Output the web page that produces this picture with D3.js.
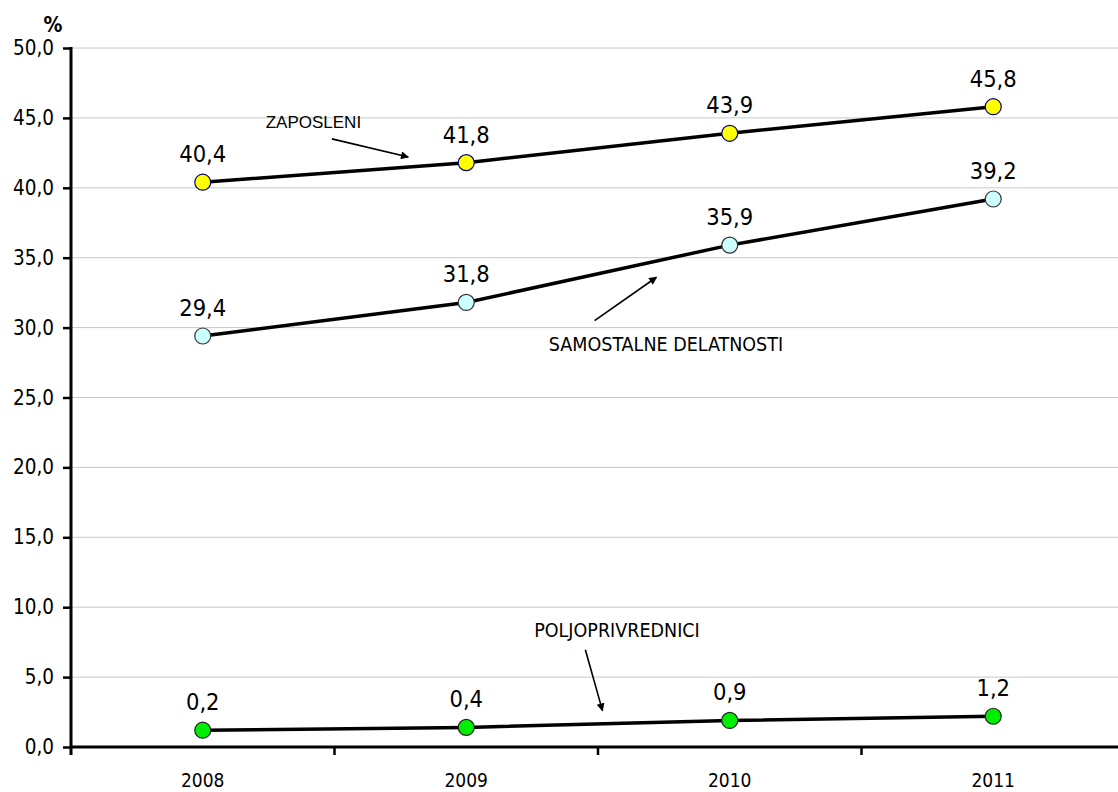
<!DOCTYPE html>
<html>
<head>
<meta charset="utf-8">
<script src="https://cdn.jsdelivr.net/npm/d3@7"></script>
<style>
  body { margin: 0; background: #fff; }
  svg { display: block; }
</style>
</head>
<body>
<div id="chart"></div>
<script>
// Data
var years = ["2008", "2009", "2010", "2011"];
var zaposleni = [40.4, 41.8, 43.9, 45.8];
var samostalne = [29.4, 31.8, 35.9, 39.2];
// plotted positions of the farmers' series sit one unit above their labels in the original
var poljoPlot = [1.2, 1.4, 1.9, 2.2];
var poljoLabels = [0.2, 0.4, 0.9, 1.2];
var yTicks = [0, 5, 10, 15, 20, 25, 30, 35, 40, 45, 50];

var W = 1118, H = 792;
var mLeft = 71, mRight = 1125, mTop = 48, mBottom = 747;
var font = "'DejaVu Sans Condensed', 'DejaVu Sans', sans-serif";
var fmt = function (v) { return d3.format(".1f")(v).replace(".", ","); };

var svg = d3.select("#chart").append("svg")
    .attr("width", W)
    .attr("height", H);

//Scales
var x = d3.scaleBand().domain(years).range([mLeft, mRight]);
var y = d3.scaleLinear().domain([0, 50]).range([mBottom, mTop]);
// continuous index -> pixel, for annotations between categories
var xi = d3.scaleLinear().domain([0, 1]).range([x(years[0]) + x.bandwidth() / 2, x(years[1]) + x.bandwidth() / 2]);

//Gridlines
svg.append("g").selectAll("line")
    .data(yTicks.filter(function (d) { return d > 0; }))
    .enter().append("line")
    .attr("x1", mLeft).attr("x2", W)
    .attr("y1", function (d) { return y(d); })
    .attr("y2", function (d) { return y(d); })
    .attr("stroke", "#c8c8c8")
    .attr("stroke-width", 1);

//Y Axis
var yAxis = svg.append("g")
    .attr("transform", "translate(" + mLeft + ",0)")
    .call(d3.axisLeft(y).tickValues(yTicks).tickFormat(fmt).tickSize(8).tickPadding(9));
yAxis.select(".domain").remove();
yAxis.append("line")
    .attr("x1", 0).attr("x2", 0).attr("y1", mTop - 1).attr("y2", mBottom + 8)
    .attr("stroke", "#000").attr("stroke-width", 3);
yAxis.selectAll(".tick line").attr("stroke-width", 2.5);
yAxis.selectAll(".tick text")
    .attr("font-family", font).attr("font-size", "20.5px").attr("fill", "#000");

//X Axis
var xAxis = svg.append("g")
    .attr("transform", "translate(0," + mBottom + ")");
xAxis.append("line")
    .attr("x1", mLeft).attr("x2", W).attr("y1", 0).attr("y2", 0)
    .attr("stroke", "#000").attr("stroke-width", 3);
xAxis.selectAll(".sep")
    .data(years.slice(1))
    .enter().append("line")
    .attr("x1", function (d) { return x(d); })
    .attr("x2", function (d) { return x(d); })
    .attr("y1", 0).attr("y2", 8)
    .attr("stroke", "#000").attr("stroke-width", 2.5);
xAxis.selectAll(".lbl")
    .data(years)
    .enter().append("text")
    .attr("x", function (d) { return x(d) + x.bandwidth() / 2; })
    .attr("y", 40)
    .attr("text-anchor", "middle")
    .attr("font-family", font).attr("font-size", "19px")
    .text(function (d) { return d; });

svg.append("text")
    .attr("x", 53).attr("y", 32)
    .attr("text-anchor", "middle")
    .attr("font-family", font).attr("font-size", "21px").attr("font-weight", "bold")
    .text("%");

//Series
var series = [
    {values: zaposleni, labels: zaposleni, fill: "#ffff00", stroke: "#000080"},
    {values: samostalne, labels: samostalne, fill: "#ccffff", stroke: "#333333"},
    {values: poljoPlot, labels: poljoLabels, fill: "#00ee00", stroke: "#222222"}
];

var line = d3.line()
    .x(function (d, i) { return x(years[i]) + x.bandwidth() / 2; })
    .y(function (d) { return y(d); });

series.forEach(function (s) {
    svg.append("path")
        .datum(s.values)
        .attr("d", line)
        .attr("fill", "none")
        .attr("stroke", "#000")
        .attr("stroke-width", 3.5);

    svg.append("g").selectAll("circle")
        .data(s.values)
        .enter().append("circle")
        .attr("cx", function (d, i) { return x(years[i]) + x.bandwidth() / 2; })
        .attr("cy", function (d) { return y(d); })
        .attr("r", 8)
        .attr("fill", s.fill)
        .attr("stroke", s.stroke)
        .attr("stroke-width", 1.2);

    svg.append("g").selectAll("text")
        .data(s.values)
        .enter().append("text")
        .attr("x", function (d, i) { return x(years[i]) + x.bandwidth() / 2; })
        .attr("y", function (d) { return y(d) - 20; })
        .attr("text-anchor", "middle")
        .attr("font-family", font).attr("font-size", "23.5px")
        .text(function (d, i) { return fmt(s.labels[i]); });
});

//Annotations with arrows (positions in category index / data units)
svg.append("defs").append("marker")
    .attr("id", "head")
    .attr("viewBox", "0 0 10 10")
    .attr("refX", 9).attr("refY", 5)
    .attr("markerWidth", 12).attr("markerHeight", 8)
    .attr("markerUnits", "userSpaceOnUse")
    .attr("orient", "auto")
    .append("path")
    .attr("d", "M0,0 L10,5 L0,10 z")
    .attr("fill", "#000");

var notes = [
    {text: "ZAPOSLENI", tx: 0.42, ty: 44.25, family: "'Liberation Sans', Arial, sans-serif", size: 17,
        from: [0.49, 43.5], to: [0.78, 42.2]},
    {text: "SAMOSTALNE DELATNOSTI", tx: 1.758, ty: 28.3, family: font, size: 19.5,
        from: [1.487, 30.5], to: [1.722, 33.6]},
    {text: "POLJOPRIVREDNICI", tx: 1.572, ty: 7.85, family: font, size: 19.5,
        from: [1.452, 6.95], to: [1.517, 2.6]}
];

notes.forEach(function (n) {
    svg.append("text")
        .attr("x", xi(n.tx)).attr("y", y(n.ty))
        .attr("text-anchor", "middle")
        .attr("font-family", n.family).attr("font-size", n.size + "px")
        .text(n.text);
    svg.append("line")
        .attr("x1", xi(n.from[0])).attr("y1", y(n.from[1]))
        .attr("x2", xi(n.to[0])).attr("y2", y(n.to[1]))
        .attr("stroke", "#000").attr("stroke-width", 1.6)
        .attr("marker-end", "url(#head)");
});
</script>
</body>
</html>
